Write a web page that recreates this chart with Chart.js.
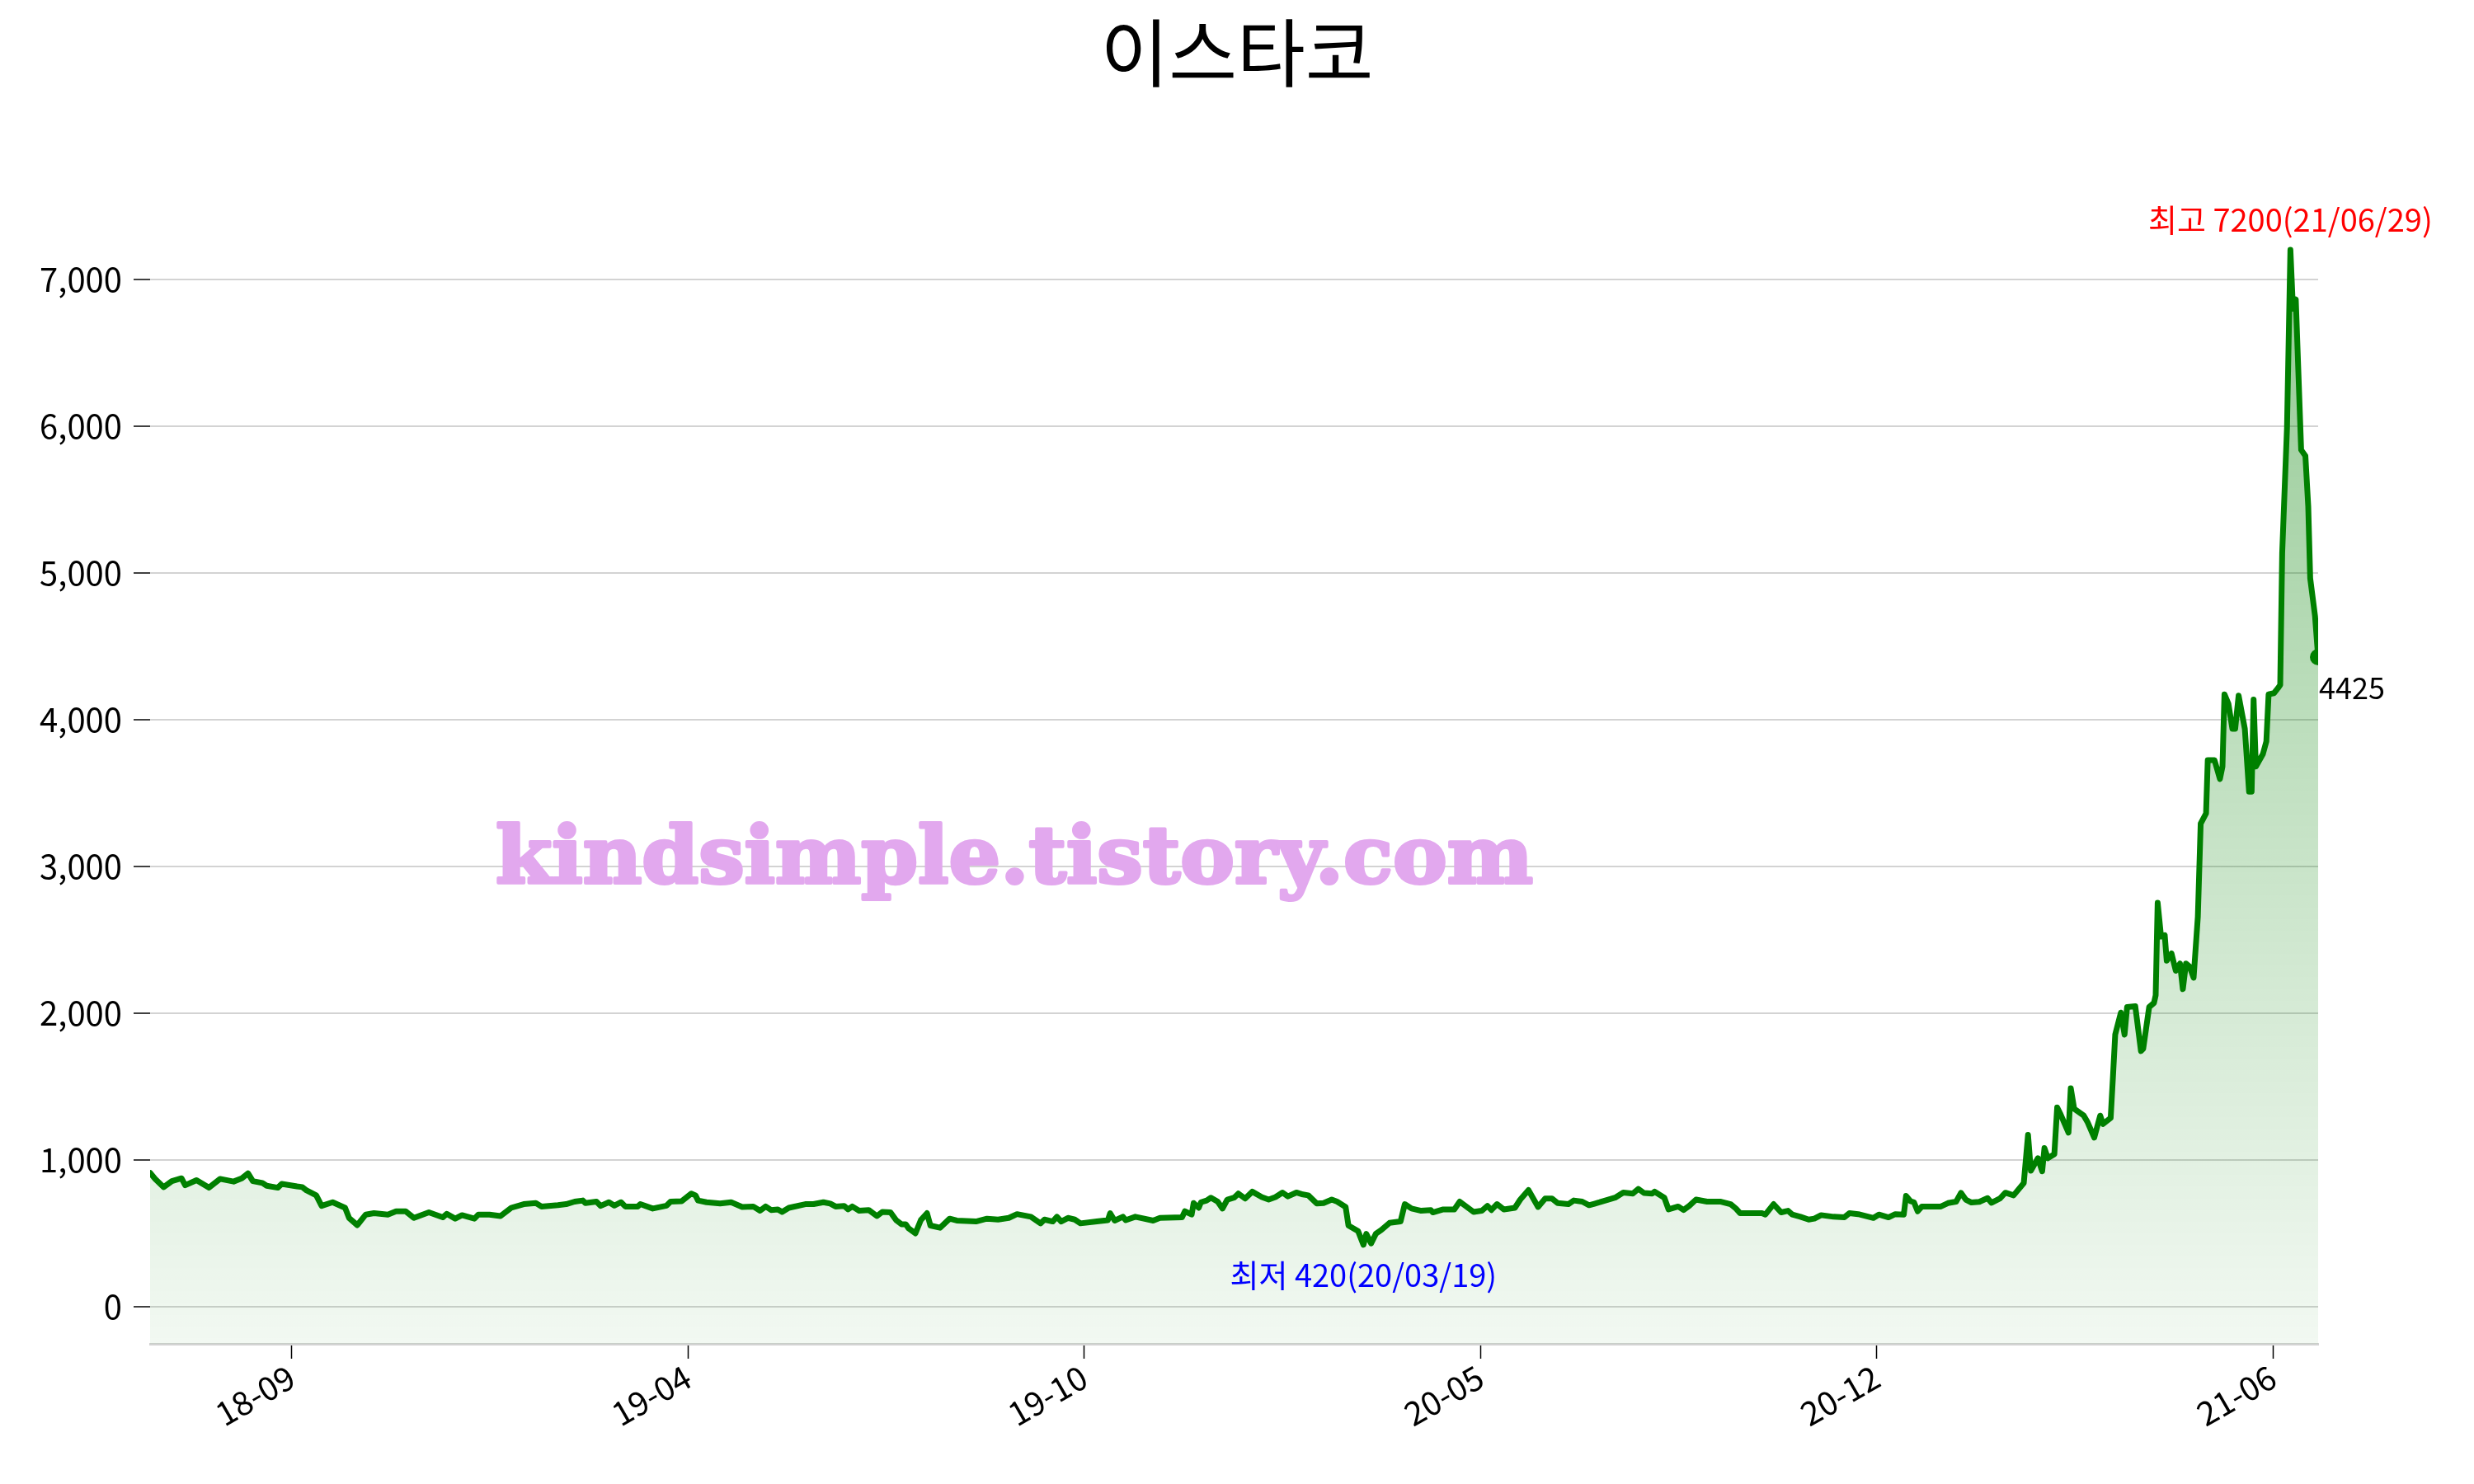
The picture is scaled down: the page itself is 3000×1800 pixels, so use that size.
<!DOCTYPE html>
<html>
<head>
<meta charset="utf-8">
<title>이스타코</title>
<script src="https://cdn.jsdelivr.net/npm/chart.js@4.4.1/dist/chart.umd.min.js"></script>
<style>
    html, body { margin: 0; padding: 0; background: #fff; }
    #wrap { width: 3000px; height: 1800px; position: relative; }
</style>
</head>
<body>
<div id="wrap"><canvas id="stockChart"></canvas></div>
<script>
// Daily close, x = trading-day index from the first day shown
const tradeDays = [
    0, 1.8, 4.8, 7.7, 11.1, 12.4, 16.4, 20.8, 24.7, 29.5, 32.4, 34.6, 36.3, 39.7, 41.2, 45.1, 46.5, 51.9, 53.8, 55.3,
    58.7, 60.6, 64.5, 68.9, 70.3, 73.2, 76.2, 79.1, 84, 86.9, 90.3, 93.2, 98.5, 103.4, 104.8, 107.8, 110.2, 114.6, 116, 119.9,
    123.8, 127.6, 132, 136.3, 138.3, 144.1, 147, 150, 152.9, 153.8, 157.7, 159.2, 162.1, 164, 166.4, 167.9, 172.3, 173.2, 177.6, 182.5,
    183.9, 187.8, 191.2, 192.7, 193.6, 196.6, 201.4, 205.3, 209.2, 213.1, 215.5, 217.5, 219.4, 221.8, 223.3, 225.7, 231.5, 234.4, 237.9, 240.3,
    242.2, 245.2, 246.6, 248.1, 250.5, 253.9, 256.8, 258.7, 261.6, 263.6, 265.5, 267, 268, 270.4, 272.3, 274.5, 275.7, 279.1, 282.5, 285,
    291.8, 295.7, 299.6, 303.4, 306.3, 311.2, 314.6, 316, 318.9, 320.4, 321.9, 324.3, 326.7, 328.7, 334.5, 338.4, 339.2, 340.8, 343.7, 344.7,
    348.1, 354.4, 356.8, 364.6, 365.6, 368, 368.7, 370.5, 371.3, 373.3, 374.8, 377.2, 378.9, 380.6, 383, 384.5, 386.9, 389.4, 392.8, 395.2,
    397.6, 400.1, 402, 405, 407.3, 409.2, 412.2, 414.6, 417.5, 419.4, 422.4, 423.4, 426.8, 428.7, 429.7, 431.4, 433.1, 435, 437.9, 441.8,
    443.3, 445.7, 449.1, 452.5, 453.2, 456.9, 460.8, 462.7, 467.6, 470.5, 472.5, 473.9, 475.9, 478.3, 482.2, 484.1, 487, 490.4, 492.9, 495.3,
    497.3, 501.1, 503, 506, 508.4, 510.3, 512.2, 517.6, 520.5, 523.9, 525.8, 527.8, 530.7, 531.6, 535, 536.5, 539.9, 541.8, 543.8, 546.2,
    550.1, 555, 558.4, 560.3, 561.8, 569.5, 570.7, 573.6, 576.3, 578.7, 580.2, 583.1, 586, 588, 590.4, 594.8, 598.6, 600.4, 603.5, 608.9,
    610.8, 614.2, 616.6, 619.6, 620.4, 622, 623.2, 624.5, 626, 628.9, 632.7, 635.2, 638.1, 639.8, 641.5, 643.5, 646.3, 649.2, 650.6, 653.6,
    655.5, 658.4, 662, 663.5, 664.5, 667, 668.5, 669.3, 670.5, 672.8, 673.8, 675, 677.8, 678.6, 679.8, 683.2, 684.6, 686.9, 689, 690,
    692.7, 693.5, 694.3, 696.3, 697.6, 698.5, 701.4, 703.4, 704.2, 706.3, 708, 708.6, 709.3, 710.5, 711.8, 712.5, 714.2, 715.7, 717.2, 718.2,
    719.3, 720.6, 722, 723.5, 724.5, 726.4, 727, 729.4, 731.3, 732.2, 732.9, 734.3, 735.7, 736.7, 737.9, 740.1, 741.6, 742.5, 743.2, 744,
    746.5, 747.7, 748.5, 750.4, 751.8, 752.6, 753.3, 755, 756.2, 757.1, 758.1, 760, 761.5, 762.5, 763.2, 764.9, 766
];
const closes = [
    910, 869, 813, 854, 873, 826, 860, 809, 869, 851, 873, 907, 854, 841, 822, 809, 835, 818, 813, 790,
    757, 685, 710, 672, 603, 554, 626, 635, 626, 648, 648, 603, 641, 607, 631, 598, 622, 598, 626, 626,
    616, 672, 697, 704, 681, 690, 697, 714, 722, 704, 714, 685, 710, 687, 710, 681, 681, 697, 667, 687,
    714, 717, 769, 757, 722, 710, 701, 710, 678, 681, 652, 681, 657, 661, 644, 672, 697, 697, 710, 701,
    681, 685, 661, 681, 652, 657, 616, 644, 641, 588, 560, 560, 532, 498, 588, 635, 551, 536, 598, 585,
    579, 598, 592, 603, 629, 611, 566, 592, 579, 611, 579, 603, 592, 566, 579, 588, 635, 585, 611, 588,
    611, 585, 603, 607, 648, 626, 704, 672, 710, 722, 741, 714, 667, 728, 741, 769, 735, 782, 745, 728,
    745, 776, 750, 776, 763, 757, 701, 704, 728, 714, 678, 551, 513, 420, 494, 430, 496, 521, 569, 579,
    697, 667, 652, 657, 641, 661, 661, 714, 644, 652, 685, 657, 697, 661, 672, 728, 793, 678, 735, 735,
    704, 697, 722, 714, 690, 700, 710, 741, 776, 769, 801, 773, 769, 782, 741, 661, 681, 657, 685, 728,
    714, 714, 697, 667, 635, 635, 626, 697, 641, 652, 626, 611, 592, 598, 622, 611, 607, 635, 629, 603,
    626, 607, 629, 626, 753, 717, 710, 648, 681, 681, 681, 704, 714, 774, 728, 708, 713, 738, 706, 736,
    775, 757, 841, 1169, 925, 1010, 921, 1079, 1010, 1037, 1356, 1309, 1184, 1487, 1347, 1300, 1253, 1150, 1300, 1243,
    1284, 1562, 1852, 2002, 1852, 2040, 2045, 1740, 1756, 2040, 2068, 2120, 2750, 2520, 2530, 2356, 2405, 2287, 2336, 2162,
    2336, 2315, 2240, 2655, 3290, 3359, 3722, 3722, 3594, 3679, 4171, 4107, 3936, 3936, 4162, 3936, 3508, 3508, 4136, 3679,
    3765, 3850, 4171, 4179, 4213, 4235, 5132, 5987, 7200, 6799, 6863, 5837, 5795, 5453, 4961, 4705, 4425
];

// Axis ticks
const tickDays = [50, 190, 330, 470, 610, 750];
const tickLabels = ['18-09', '19-04', '19-10', '20-05', '20-12', '21-06'];
const yTicks = [0, 1000, 2000, 3000, 4000, 5000, 6000, 7000];

// Texts
const stockName = '이스타코';
const highDate = '21/06/29';
const lowDate = '20/03/19';
const watermarkText = 'kindsimple.tistory.com';

const FONT = '"Noto Sans CJK KR", "Noto Sans", sans-serif';

// Title, high/low/last labels and watermark
const annotationPlugin = {
    id: 'annotations',
    afterDatasetsDraw(chart) {
        const { ctx, chartArea } = chart;
        const x = chart.scales.x;
        const y = chart.scales.y;
        const hi = closes.indexOf(Math.max(...closes));
        const lo = closes.indexOf(Math.min(...closes));
        const last = closes.length - 1;

        ctx.save();
        ctx.font = '38px ' + FONT;
        ctx.textBaseline = 'middle';
        ctx.textAlign = 'center';
        ctx.fillStyle = '#ff0000';
        ctx.fillText('최고 ' + closes[hi] + '(' + highDate + ')',
            x.getPixelForValue(tradeDays[hi]), y.getPixelForValue(closes[hi]) - 36);
        ctx.fillStyle = '#0000ff';
        ctx.fillText('최저 ' + closes[lo] + '(' + lowDate + ')',
            x.getPixelForValue(tradeDays[lo]), y.getPixelForValue(closes[lo]) + 37);
        ctx.textAlign = 'left';
        ctx.fillStyle = '#000000';
        ctx.font = '36px ' + FONT;
        ctx.fillText(String(closes[last]), chartArea.right + 1, y.getPixelForValue(closes[last]) + 37);

        // Title
        ctx.textAlign = 'center';
        ctx.font = '90px ' + FONT;
        ctx.fillText(stockName, chart.width / 2, 64);

        // Watermark
        ctx.font = 'bold 96px "DejaVu Serif", serif';
        ctx.textBaseline = 'alphabetic';
        const w = ctx.measureText(watermarkText).width;
        ctx.translate(1230, 1071);
        ctx.scale(1258 / w, 1);
        ctx.fillStyle = '#e2a8ee';
        ctx.strokeStyle = '#e2a8ee';
        ctx.lineWidth = 4;
        ctx.lineJoin = 'round';
        ctx.strokeText(watermarkText, 0, 0);
        ctx.fillText(watermarkText, 0, 0);
        ctx.restore();
    }
};

function fillGradient(context) {
    const chart = context.chart;
    const area = chart.chartArea;
    if (!area) return 'rgba(0,128,0,0.1)';
    const top = chart.scales.y.getPixelForValue(Math.max(...closes));
    const g = chart.ctx.createLinearGradient(0, top, 0, area.bottom);
    g.addColorStop(0, 'rgba(0,128,0,0.42)');
    g.addColorStop(1, 'rgba(0,128,0,0.05)');
    return g;
}

function drawChart() {
    const ctx = document.getElementById('stockChart').getContext('2d');
    new Chart(ctx, {
        type: 'line',
        data: {
            datasets: [{
                data: tradeDays.map((d, i) => ({ x: d, y: closes[i] })),
                borderColor: '#008000',
                borderWidth: 7,
                borderJoinStyle: 'round',
                borderCapStyle: 'round',
                tension: 0,
                fill: 'start',
                backgroundColor: fillGradient,
                pointRadius: c => (c.dataIndex === closes.length - 1 ? 10 : 0),
                pointBackgroundColor: '#008000',
                pointBorderWidth: 0,
                pointHoverRadius: 0,
                clip: 0
            }]
        },
        options: {
            responsive: true,
            maintainAspectRatio: false,
            animation: false,
            devicePixelRatio: 1,
            layout: {
                padding: { top: 214, right: 189, bottom: 0, left: 0 }
            },
            plugins: {
                legend: { display: false },
                title: { display: false },
                tooltip: { enabled: false }
            },
            scales: {
                x: {
                    type: 'linear',
                    min: 0,
                    max: 766,
                    afterBuildTicks: scale => {
                        scale.ticks = tickDays.map(v => ({ value: v }));
                    },
                    afterFit: scale => {
                        scale.height = 170;
                    },
                    ticks: {
                        callback: value => tickLabels[tickDays.indexOf(value)],
                        minRotation: 30,
                        maxRotation: 30,
                        padding: -2,
                        color: '#000000',
                        font: { family: FONT, size: 40 }
                    },
                    grid: {
                        drawOnChartArea: false,
                        tickLength: 18,
                        tickColor: '#000000',
                        tickWidth: 1.5
                    },
                    border: {
                        color: '#d3d3d3',
                        width: 3
                    }
                },
                y: {
                    min: -255,
                    max: 7700,
                    afterBuildTicks: scale => {
                        scale.ticks = yTicks.map(v => ({ value: v }));
                    },
                    afterFit: scale => {
                        scale.width = 182;
                    },
                    ticks: {
                        padding: 14,
                        color: '#000000',
                        font: { family: FONT, size: 40 },
                        callback: value => value.toLocaleString('en-US')
                    },
                    grid: {
                        color: '#d3d3d3',
                        lineWidth: 2,
                        tickLength: 20,
                        tickColor: '#000000',
                        tickWidth: 1.5
                    },
                    border: { display: false }
                }
            }
        },
        plugins: [annotationPlugin]
    });
}

// Wait for installed fonts before drawing
Promise.all([
    document.fonts.load('34px "Noto Sans CJK KR"', '최고0'),
    document.fonts.load('bold 96px "DejaVu Serif"', 'k')
]).then(drawChart, drawChart);
</script>
</body>
</html>
